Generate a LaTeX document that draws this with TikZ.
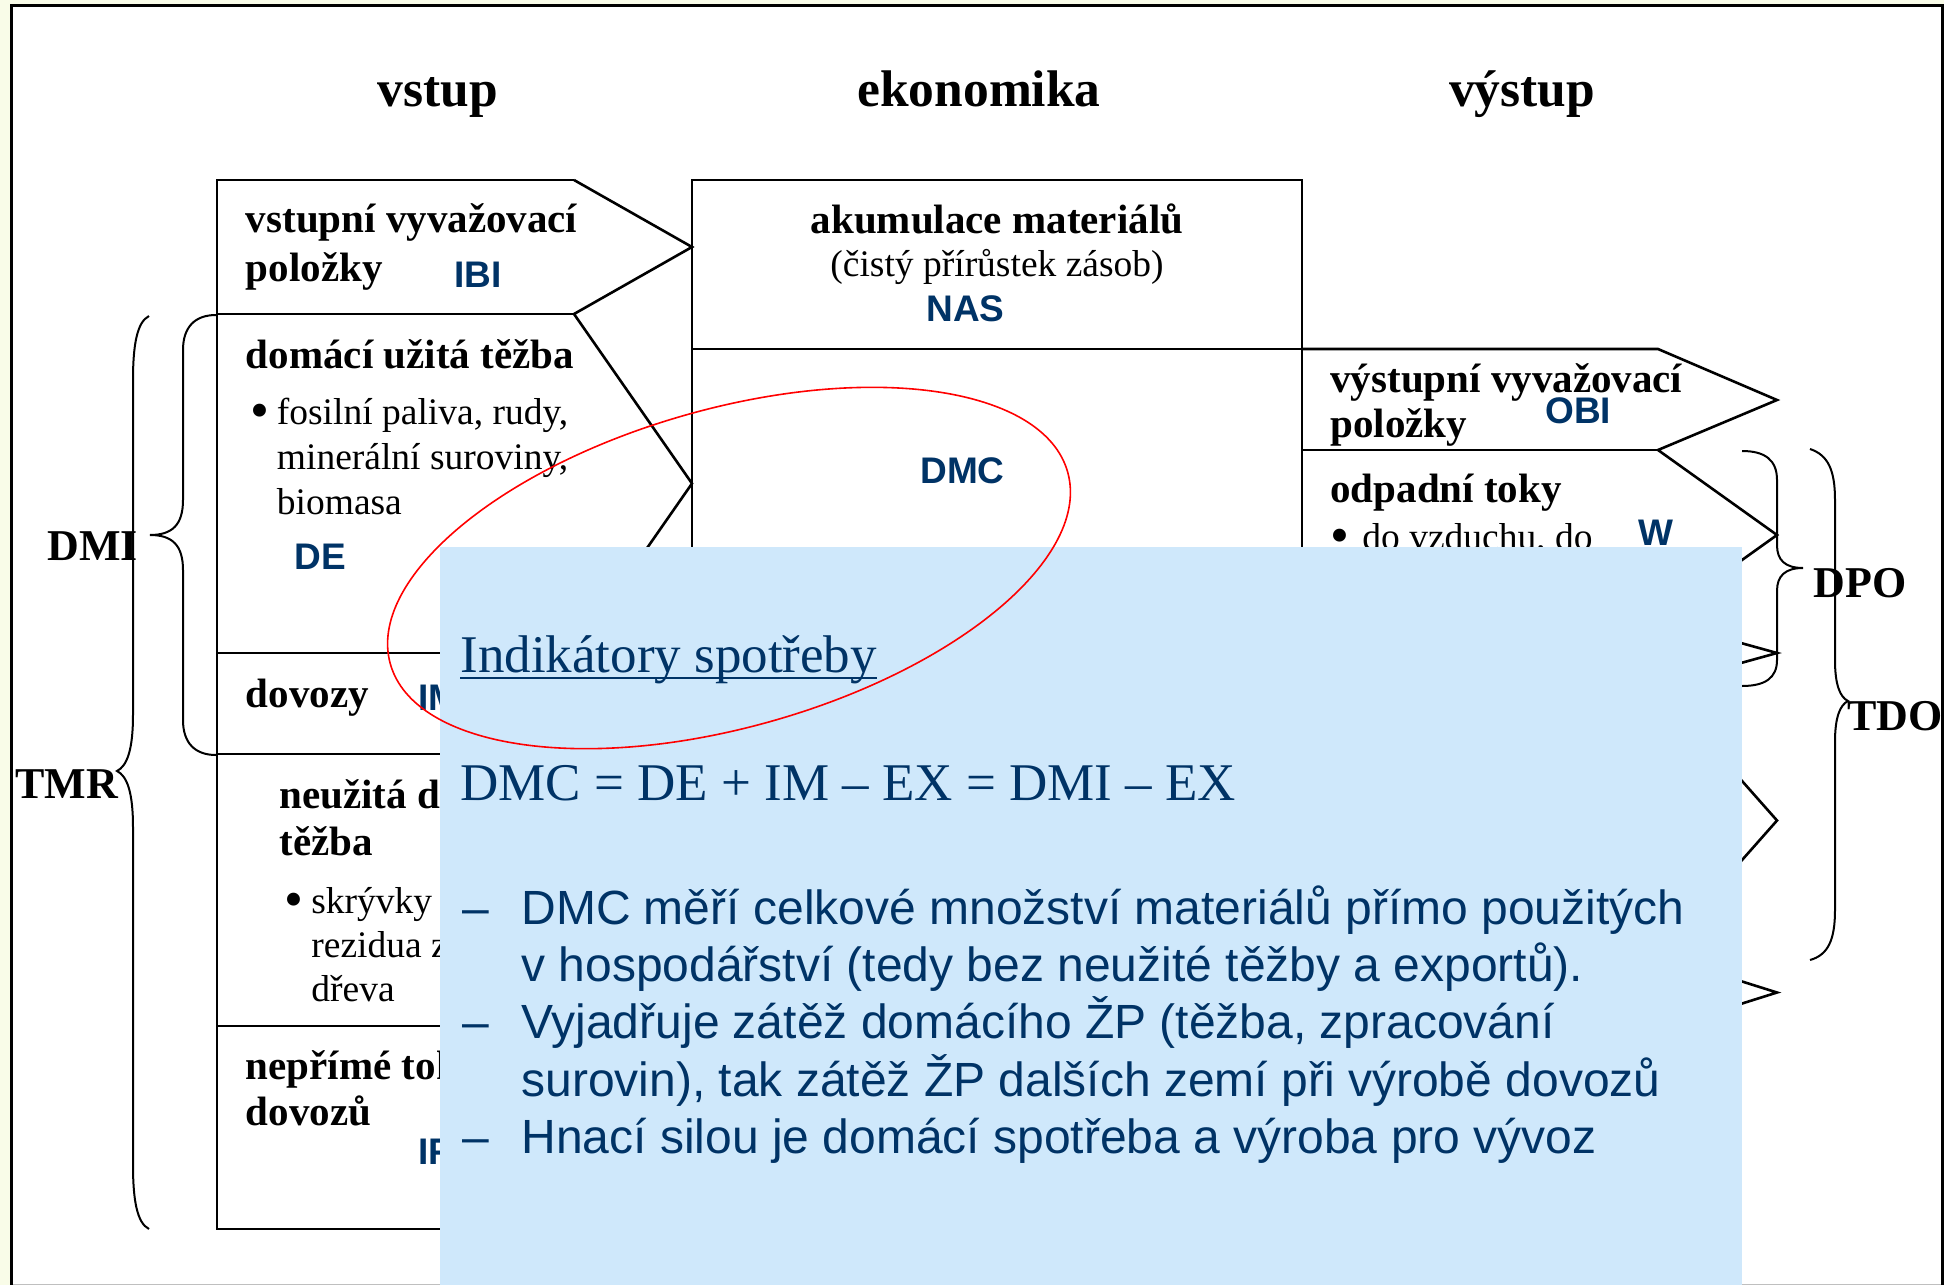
\documentclass[tikz,border=0pt]{standalone}
\usepackage{fontspec}
\setmainfont{Liberation Serif}
\setsansfont{Liberation Sans}
\usepackage{xcolor}
\usetikzlibrary{calc}
\definecolor{navyx}{HTML}{003366}
\definecolor{creamx}{HTML}{F9FCE8}
\definecolor{panelx}{HTML}{CFE8FB}
\tikzset{
  ln/.style={line width=1.3pt},
  br/.style={line width=1pt},
  head/.style={font=\bfseries\fontsize{25.75}{30}\selectfont,anchor=base,inner sep=0pt},
  ttl/.style={font=\bfseries\fontsize{20.5}{24}\selectfont,anchor=base west,inner sep=0pt},
  txt/.style={font=\fontsize{18.75}{22}\selectfont,anchor=base west,inner sep=0pt},
  dot/.style={font=\fontsize{27}{30}\selectfont,anchor=base west,inner sep=0pt},
  code/.style={font=\sffamily\bfseries\fontsize{18.5}{22}\selectfont,text=navyx,anchor=base west,inner sep=0pt},
  lbl/.style={font=\bfseries\fontsize{22}{26}\selectfont,anchor=base west,inner sep=0pt},
  big/.style={font=\fontsize{26.5}{30}\selectfont,text=navyx,anchor=base west,inner sep=0pt},
  pt/.style={font=\sffamily\fontsize{24}{28}\selectfont,text=navyx,anchor=base west,inner sep=0pt}
}
\begin{document}
\begin{tikzpicture}[x=0.5pt,y=-0.5pt]
\useasboundingbox (0,0) rectangle (1944,1285);
\fill[creamx] (0,0) rectangle (1944,1285);
\fill[white] (11.5,5.5) rectangle (1942,1284);
\draw[gray!50,line width=0.5pt] (11.5,1284) -- (1942,1284);
\draw[line width=1.5pt] (11.5,1285) -- (11.5,5.5) -- (1942,5.5) -- (1942,1285);
% headings
\node[head] (hin) at (438,106.5) {vstup};
\node[head] (heco) at (979,106.5) {ekonomika};
\node[head] (hout) at (1522,106.5) {výstup};
% input column
\draw[ln] (574,180) -- (217,180) -- (217,1229) -- (574,1229);
\foreach \y in {314,653,754,1026} \draw[ln] (217,\y) -- (574,\y);
\draw[ln] (574,180) -- (692,247) -- (574,314) -- (692,483.5) -- (574,653) -- (692,703.5)
  -- (574,754) -- (692,890) -- (574,1026) -- (692,1127.5) -- (574,1229);
% economy
\draw[ln] (692,180) rectangle (1302,1229);
\draw[ln] (692,349) -- (1302,349);
% output column
\draw[ln] (1302,349) -- (1658,349) -- (1777,400) -- (1658,450) -- (1777,535) -- (1658,620)
  -- (1777,653) -- (1658,686) -- (1777,820.5) -- (1658,955) -- (1777,992.5) -- (1658,1030);
\foreach \y in {450,620,686,955,1030} \draw[ln] (1302,\y) -- (1658,\y);
% texts
\node[ttl] (ibi1) at (245.5,232) {vstupní vyvažovací};
\node[ttl] (ibi2) at (245.5,281) {položky};
\node[code] (ibi) at (454,287) {IBI};
\node[ttl] (de1) at (245.5,368) {domácí užitá těžba};
\node[dot] (deb) at (250,428) {•};
\node[txt] (de2) at (276.5,424) {fosilní paliva, rudy,};
\node[txt] (de3) at (276.5,469) {minerální suroviny,};
\node[txt] (de4) at (276.5,514) {biomasa};
\node[code] (de) at (294,569) {DE};
\node[ttl] (im1) at (245.5,707) {dovozy};
\node[code] (im) at (418,710) {IM};
\node[ttl] (ude1) at (279,808) {neužitá domácí};
\node[ttl] (ude2) at (279,855) {těžba};
\node[dot] (udeb) at (284.5,917) {•};
\node[txt] (ude3) at (311,913) {skrývky};
\node[txt] (ude4) at (311,957) {rezidua z};
\node[txt] (ude5) at (311,1001) {dřeva};
\node[ttl] (if1) at (245.5,1079) {nepřímé toky};
\node[ttl] (if2) at (245.5,1125) {dovozů};
\node[code] (if) at (418,1164) {IF};
\node[ttl,anchor=base] (nas1) at (997,233) {akumulace materiálů};
\node[txt,anchor=base] (nas2) at (997,276) {(čistý přírůstek zásob)};
\node[code] (nas) at (926,321) {NAS};
\node[code] (dmc) at (920,483) {DMC};
\node[ttl] (obi1) at (1330,392) {výstupní vyvažovací};
\node[ttl] (obi2) at (1330,437) {položky};
\node[code] (obi) at (1545,423) {OBI};
\node[ttl] (w1) at (1330,502) {odpadní toky};
\node[dot] (wb) at (1330,553) {•};
\node[txt] (w2) at (1362,549) {do vzduchu, do};
\node[code] (w) at (1638,545) {W};
% braces
\draw[br] (216,315) .. controls (195,315) and (183,327) .. (183,350) -- (183,500)
  .. controls (183,525) and (172,535) .. (150,535) .. controls (172,535) and (183,545) .. (183,570)
  -- (183,720) .. controls (183,743) and (195,755) .. (216,755);
\draw[br] (149,316) .. controls (137,322) and (133,345) .. (133,380) -- (133,715)
  .. controls (133,750) and (127,766) .. (117,771) .. controls (127,776) and (133,792) .. (133,827)
  -- (133,1165) .. controls (133,1200) and (137,1223) .. (149,1229);
\draw[br] (1742,451) .. controls (1765,451) and (1777,460) .. (1777,480) -- (1777,545)
  .. controls (1777,560) and (1785,568) .. (1803,568) .. controls (1785,568) and (1777,576) .. (1777,591)
  -- (1777,660) .. controls (1777,678) and (1765,686) .. (1742,686);
\draw[br] (1810,449) .. controls (1828,455) and (1835,470) .. (1835,500) -- (1835,660)
  .. controls (1835,685) and (1840,697) .. (1848,701) .. controls (1840,705) and (1835,717) .. (1835,742)
  -- (1835,910) .. controls (1835,940) and (1828,955) .. (1810,960);
\node[lbl] (dmi) at (47,560) {DMI};
\node[lbl] (tmr) at (15,798) {TMR};
\node[lbl] (dpo) at (1813,597) {DPO};
\node[lbl] (tdo) at (1847,730) {TDO};
% overlay
\fill[panelx] (440,547) rectangle (1742,1285);
\node[big] (ind) at (460,672) {Indikátory spotřeby};
\draw[navyx,line width=1pt] ([yshift=-3pt]ind.base west) -- ([yshift=-3pt]ind.base east);
\node[big] (eq) at (460,800) {DMC = DE + IM – EX = DMI – EX};
\foreach \y in {924,1038,1153} \node[pt] (dash\y) at (462,\y) {–};
\node[pt] (p1) at (521,924) {DMC měří celkové množství materiálů přímo použitých};
\node[pt] (p2) at (521,981) {v hospodářství (tedy bez neužité těžby a exportů).};
\node[pt] (p3) at (521,1038) {Vyjadřuje zátěž domácího ŽP (těžba, zpracování};
\node[pt] (p4) at (521,1096) {surovin), tak zátěž ŽP dalších zemí při výrobě dovozů};
\node[pt] (p5) at (521,1153) {Hnací silou je domácí spotřeba a výroba pro vývoz};
\draw[red,line width=0.8pt,rotate around={15.85:(729,568)}] (729,568) ellipse [x radius=352,y radius=159];
\end{tikzpicture}
\end{document}
